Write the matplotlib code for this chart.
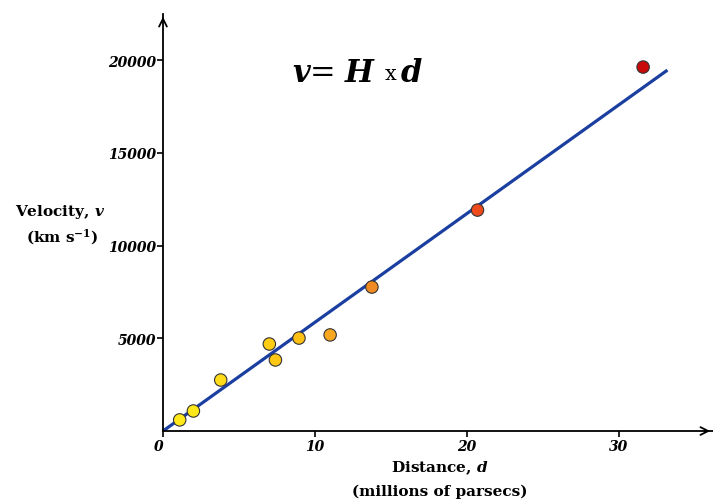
import matplotlib
matplotlib.use("Agg")
import matplotlib.pyplot as plt
import numpy as np

# Data
distance = [1.1, 2.0, 3.8, 7.0, 7.4, 8.95, 11.0, 13.75, 20.7, 31.6]
velocity = [600, 1080, 2750, 4690, 3830, 5010, 5180, 7760, 11910, 19620]
colors = ["#ffe81a", "#ffe81a", "#ffdb1a", "#ffcc14", "#ffc814", "#ffc014",
          "#f7a81e", "#f08a22", "#ee4a1c", "#c80a0a"]
fit_x = [0, 33.2]
hubble_const = 586.0  # km/s per Mpc (slope of the drawn line)
xticks = [0, 10, 20, 30]
yticks = [5000, 10000, 15000, 20000]

plt.rcParams["mathtext.fontset"] = "custom"
plt.rcParams["mathtext.it"] = "DejaVu Serif:italic:bold"
plt.rcParams["mathtext.rm"] = "DejaVu Serif:bold"
plt.rcParams["mathtext.bf"] = "DejaVu Serif:bold"

fig = plt.figure(figsize=(7.13, 5.02), dpi=100)
ax = fig.add_axes([0.2286, 0.1394, 0.7714, 0.8307])
ax.set_xlim(0, 36.2)
ax.set_ylim(0, 22480)

for s in ["top", "right"]:
    ax.spines[s].set_visible(False)
ax.spines["left"].set_linewidth(1.3)
ax.spines["bottom"].set_linewidth(1.3)

# arrows at axis ends
ax.annotate("", xy=(1.0, 0), xytext=(0.98, 0), xycoords="axes fraction",
            arrowprops=dict(arrowstyle="->", lw=1.3, color="black",
                            mutation_scale=14), annotation_clip=False)
ax.annotate("", xy=(0, 1.0), xytext=(0, 0.98), xycoords="axes fraction",
            arrowprops=dict(arrowstyle="->", lw=1.3, color="black",
                            mutation_scale=14), annotation_clip=False)

fit_y = [hubble_const * x for x in fit_x]
ax.plot(fit_x, fit_y, color="#1a3fa0", lw=2.3, zorder=2, solid_capstyle="butt")
ax.scatter(distance, velocity, s=80, c=colors, edgecolors="#333333",
           linewidths=0.8, zorder=3)

ax.set_xticks(xticks)
ax.set_yticks(yticks)
ax.set_xticklabels([str(t) for t in xticks])
ax.set_yticklabels([str(t) for t in yticks])
ax.tick_params(direction="out", length=4, width=1.2)
ax.tick_params(axis="x", pad=2)
ax.tick_params(axis="y", pad=1)
for lab in ax.get_xticklabels() + ax.get_yticklabels():
    lab.set_fontfamily("DejaVu Serif")
    lab.set_fontstyle("italic")
    lab.set_fontweight("bold")
    lab.set_fontsize(10)
ax.get_xticklabels()[0].set_horizontalalignment("right")

lab_kw = dict(ha="center", va="center", family="DejaVu Serif",
              fontweight="bold", fontsize=11)
# axis labels
fig.text(60 / 713, 1 - 212 / 502, r"Velocity, $v$", **lab_kw)
fig.text(62 / 713, 1 - 237 / 502, r"(km s$^{-1}$)", **lab_kw)
fig.text(440 / 713, 1 - 468 / 502, r"Distance, $d$", **lab_kw)
fig.text(440 / 713, 1 - 492 / 502, "(millions of parsecs)", **lab_kw)

# equation
eq_kw = dict(va="center", family="DejaVu Serif", fontsize=22)
fig.text(292 / 713, 1 - 73 / 502, r"$v$= $H$", ha="left", **eq_kw)
fig.text(391 / 713, 1 - 75 / 502, "x", ha="center", va="center",
         family="DejaVu Serif", fontsize=15)
fig.text(400 / 713, 1 - 73 / 502, r"$d$", ha="left", **eq_kw)

fig.savefig("out.png", dpi=100)
